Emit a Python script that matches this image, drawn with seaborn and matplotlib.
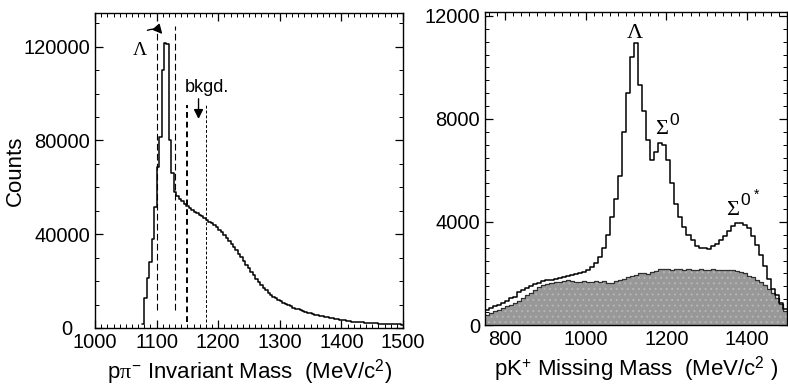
import numpy as np
import pandas as pd
import matplotlib
matplotlib.use('Agg')
import matplotlib.pyplot as plt
import seaborn as sns
from matplotlib.ticker import MultipleLocator, FuncFormatter

# ---- data ----
# left: p pi- invariant mass, 4 MeV bins starting at 1076 MeV
LEFT_START, LEFT_WIDTH = 1076, 4
left_counts = [1500, 13000, 21500, 28000, 38000, 51500, 68500, 81500, 110000, 121500,
               121000, 80000, 66000, 58000, 56500,
               55000, 54000, 53000, 52000, 51200, 50400, 49700, 49000, 48300, 47600,
               46800, 46000, 45300, 44600, 43900, 43000, 42000, 41000, 39800, 38500,
               37300, 36000, 34600, 33200, 31700, 30200, 28600, 27000, 25400, 23900,
               22400, 21000, 19600, 18400, 17200, 16100, 15100, 14100, 13300, 12600,
               11900, 11300, 10700, 10200, 9700, 9200, 8700, 8300, 7900, 7500,
               7100, 6800, 6500, 6200, 5900, 5600, 5400, 5100, 4900, 4700,
               4500, 4300, 4100, 3900, 3700, 3500, 3350, 3200, 3050, 2900,
               2750, 2650, 2550, 2450, 2350, 2250, 2150, 2100, 2050, 2000,
               1950, 1900, 1850, 1800, 1750, 1700, 1650, 1600, 1550, 1500, 1450]
lambda_window = [1100, 1130]
bkgd_window = [1150, 1180]

# right: pK+ missing mass, 10 MeV bins starting at 750 MeV
RIGHT_START, RIGHT_WIDTH = 750, 10
right_total = [580, 650, 720, 780, 860, 950, 1030, 1100, 1270, 1350,
               1420, 1520, 1580, 1630, 1690, 1730, 1760, 1790, 1810, 1850,
               1900, 1940, 1970, 2000, 2050, 2150, 2250, 2400, 2650, 3000,
               3500, 4200, 4900, 5800, 7500, 9000, 10400, 10950, 9300, 8300,
               7200, 6400, 6700, 7050, 7000, 6400, 5500, 4700, 4200, 3800,
               3500, 3300, 3050, 3000, 2970, 2960, 3050, 3150, 3300, 3450,
               3650, 3850, 3970, 3970, 3900, 3750, 3450, 3100, 2700, 2300,
               1800, 1400, 1150, 850, 620]
right_bkgd = [400, 470, 540, 600, 660, 720, 780, 850, 950, 1050,
              1150, 1260, 1370, 1460, 1540, 1600, 1640, 1660, 1670, 1700,
              1740, 1690, 1680, 1680, 1690, 1680, 1680, 1690, 1680, 1700,
              1640, 1620, 1700, 1740, 1800, 1850, 1900, 1960, 2000, 2010,
              1990, 2070, 2100, 2160, 2170, 2160, 2150, 2170, 2160, 2140,
              2160, 2150, 2130, 2160, 2150, 2140, 2160, 2130, 2150, 2140,
              2130, 2120, 2090, 2050, 2000, 1920, 1850, 1750, 1650, 1550,
              1400, 1250, 1050, 800, 550]

# ---- style ----
sns.set_style('ticks')
plt.rcParams['font.family'] = ['Liberation Sans', 'DejaVu Sans']
plt.rcParams['mathtext.fontset'] = 'custom'
plt.rcParams['mathtext.rm'] = 'Liberation Sans'
plt.rcParams['mathtext.it'] = 'Liberation Serif'
plt.rcParams['mathtext.bf'] = 'Liberation Sans:bold'
plt.rcParams['hatch.linewidth'] = 0.7
for key in ['text.color', 'axes.labelcolor', 'xtick.color', 'ytick.color', 'axes.edgecolor']:
    plt.rcParams[key] = 'black'

SERIF = ['Liberation Serif', 'DejaVu Serif']
TICK_SIZE = 14.5
LABEL_SIZE = 16


def style_axes(ax):
    for s in ax.spines.values():
        s.set_linewidth(1.0)
    ax.tick_params(which='both', direction='in', top=True, right=True, labelsize=TICK_SIZE)
    ax.tick_params(which='major', length=6, width=0.9)
    ax.tick_params(which='minor', length=3, width=0.7)


fig = plt.figure(figsize=(7.88, 3.87), dpi=100)

# ---- left panel ----
ax1 = fig.add_axes([0.1206, 0.1525, 0.3909, 0.8139])
n_left = len(left_counts)
left_range = (LEFT_START, LEFT_START + LEFT_WIDTH * n_left)
left_df = pd.DataFrame({'mass': LEFT_START + LEFT_WIDTH * (np.arange(n_left) + 0.5),
                        'counts': left_counts})
sns.histplot(data=left_df, x='mass', weights='counts', bins=n_left, binrange=left_range,
             element='step', fill=False, color='black', linewidth=1.1, ax=ax1)

ax1.vlines(lambda_window, 7500, 129000, colors='black', linewidth=0.8,
           linestyles=[(0, (6, 3))])
ax1.vlines(bkgd_window[0], 2600, 95000, colors='black', linewidth=1.4,
           linestyles=[(0, (3, 2))])
ax1.vlines(bkgd_window[1], 2600, 95000, colors='black', linewidth=0.7,
           linestyles=[(0, (3, 2))])

ax1.text(1073, 116600, 'Λ', fontsize=14, family=SERIF, ha='center', va='baseline')
ax1.annotate('', xy=(1112, 124500), xytext=(1081, 126500),
             arrowprops=dict(arrowstyle='-|>', color='black', lw=1.0,
                             connectionstyle='arc3,rad=-0.45', mutation_scale=14))
ax1.text(1181, 102500, 'bkgd.', fontsize=13, ha='center', va='center')
ax1.annotate('', xy=(1168, 88000), xytext=(1168, 99000),
             arrowprops=dict(arrowstyle='-|>', color='black', lw=1.0, mutation_scale=14))

ax1.set_xlim(1000, 1500)
ax1.set_ylim(0, 134400)
ax1.xaxis.set_major_locator(MultipleLocator(100))
ax1.xaxis.set_minor_locator(MultipleLocator(10))
ax1.yaxis.set_major_locator(MultipleLocator(40000))
ax1.yaxis.set_minor_locator(MultipleLocator(10000))
# the zero label sits further left in the original, drawn separately below
ax1.yaxis.set_major_formatter(FuncFormatter(lambda v, p: '' if v == 0 else f'{v:.0f}'))
ax1.text(-0.075, 0, '0', transform=ax1.get_yaxis_transform(), fontsize=TICK_SIZE,
         ha='right', va='center_baseline')
ax1.set_xlabel(r'p$\pi^{-}$ Invariant Mass  (MeV/c$^{2}$)', fontsize=LABEL_SIZE, labelpad=4)
ax1.set_ylabel('Counts', fontsize=LABEL_SIZE)
ax1.yaxis.set_label_coords(-0.225, 0.5)
style_axes(ax1)

# ---- right panel ----
ax2 = fig.add_axes([0.6155, 0.1602, 0.3835, 0.8088])
n_right = len(right_total)
right_range = (RIGHT_START, RIGHT_START + RIGHT_WIDTH * n_right)
right_df = pd.DataFrame({'mass': RIGHT_START + RIGHT_WIDTH * (np.arange(n_right) + 0.5),
                         'total': right_total, 'bkgd': right_bkgd})
sns.histplot(data=right_df, x='mass', weights='bkgd', bins=n_right, binrange=right_range,
             element='step', fill=True, color='#989898', alpha=1.0, linewidth=0, ax=ax2)
for coll in ax2.collections:
    coll.set_facecolor('#989898')
    coll.set_edgecolor('#b6b6b6')
    coll.set_linewidth(0)
    coll.set_hatch('...')
sns.histplot(data=right_df, x='mass', weights='bkgd', bins=n_right, binrange=right_range,
             element='step', fill=False, color='#303030', linewidth=0.9, ax=ax2)
sns.histplot(data=right_df, x='mass', weights='total', bins=n_right, binrange=right_range,
             element='step', fill=False, color='black', linewidth=1.1, ax=ax2)

ax2.text(1122, 11135, 'Λ', fontsize=16, family=SERIF, ha='center', va='baseline')
ax2.text(1172, 7410, 'Σ', fontsize=16, family=SERIF, ha='left', va='baseline')
ax2.text(1208, 7760, '0', fontsize=12.5, ha='left', va='baseline')
ax2.text(1348, 4270, 'Σ', fontsize=16, family=SERIF, ha='left', va='baseline')
ax2.text(1385, 4660, '0', fontsize=12.5, ha='left', va='baseline')
ax2.text(1416, 4900, '*', fontsize=10, ha='left', va='baseline')

ax2.set_xlim(750, 1500)
ax2.set_ylim(0, 12150)
ax2.xaxis.set_major_locator(MultipleLocator(200))
ax2.xaxis.set_minor_locator(MultipleLocator(20))
ax2.yaxis.set_major_locator(MultipleLocator(4000))
ax2.yaxis.set_minor_locator(MultipleLocator(500))
ax2.set_xlabel(r'pK$^{+}$ Missing Mass  (MeV/c$^{2}$ )', fontsize=LABEL_SIZE, labelpad=4)
ax2.set_ylabel('')
style_axes(ax2)

fig.savefig('out.png', dpi=100)
